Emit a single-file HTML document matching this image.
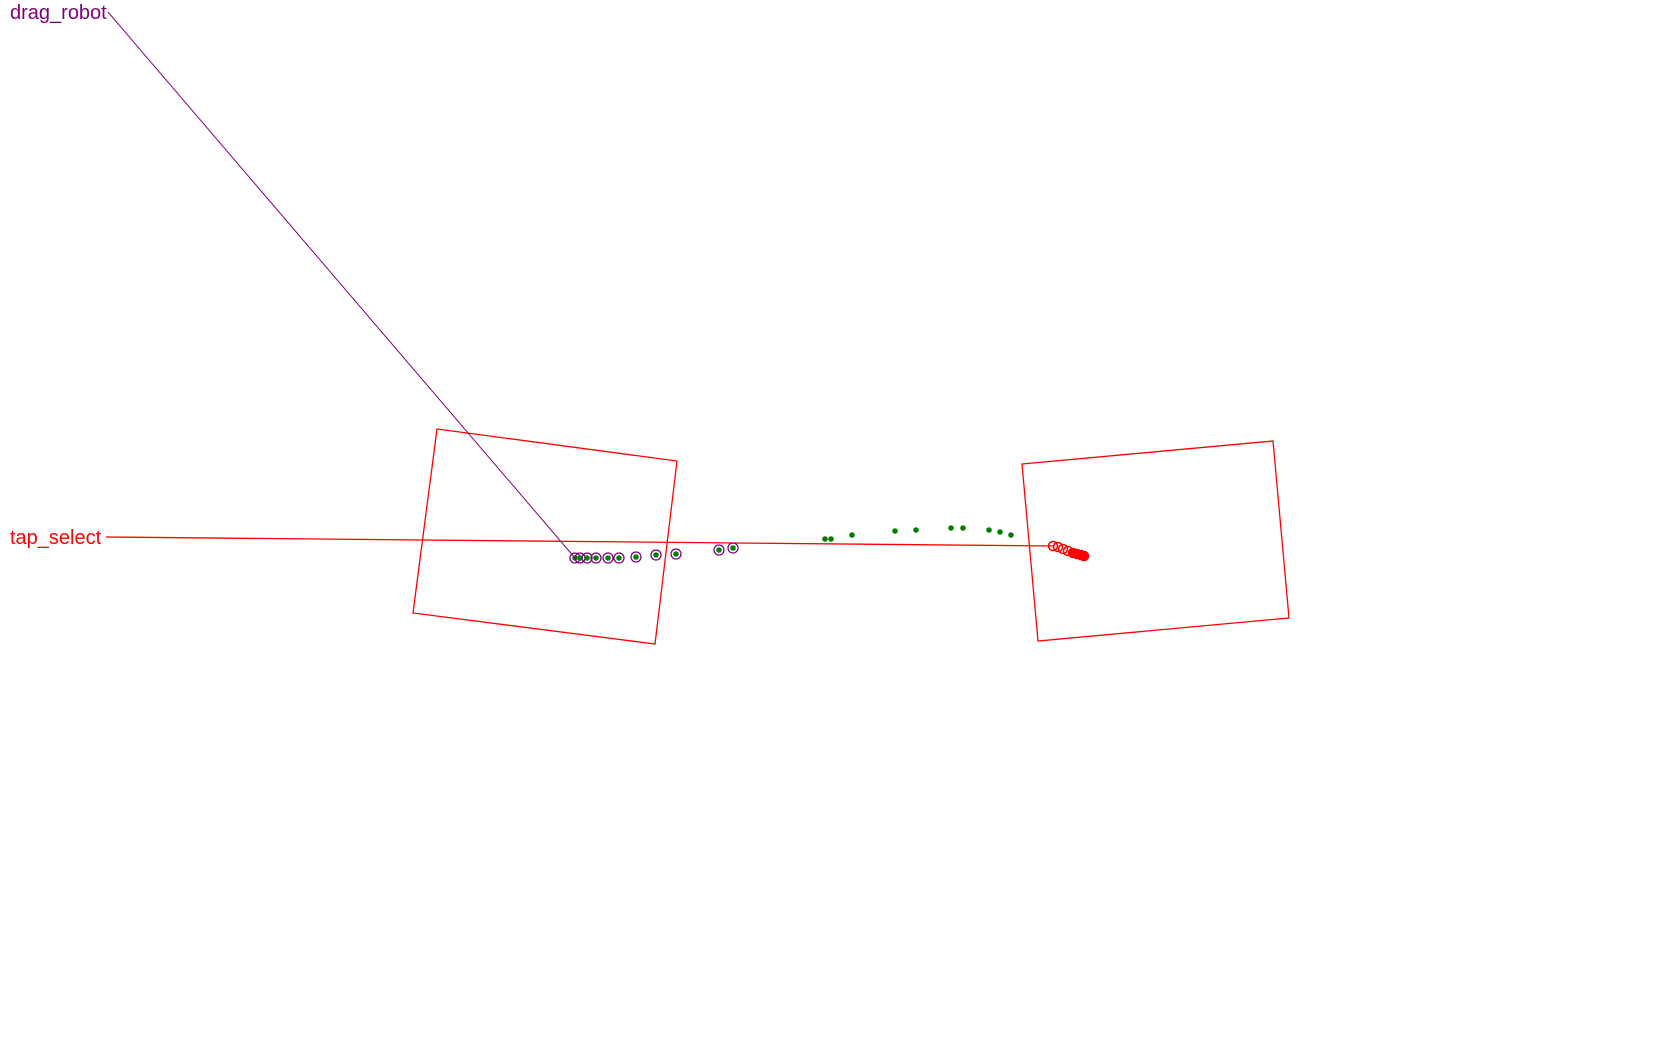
<!DOCTYPE html>
<html><head><meta charset="utf-8"><style>
html,body{margin:0;padding:0;background:#fff;width:1680px;height:1050px;overflow:hidden}
svg{display:block}
text{font-family:"Liberation Sans",sans-serif;font-size:20px}
</style></head><body>
<svg width="1680" height="1050">
<g id="marks"></g>
</svg>
<script>
const boxA=[[437,429],[677,461],[655,644],[413,613]];
const boxB=[[1022,464],[1273,441],[1289,618],[1038,641]];
const dragX=[575,580,587,596,608,619,636,656,676,719,733];
const dragY=[558,558,558,558,558,558,557,555,554,550,548];
const greenX=[825,831,852,895,916,951,963,989,1000,1011];
const greenY=[539,539,535,531,530,528,528,530,532,535];
const tapX=[1053,1058,1063,1068,1073,1077,1081,1084];
const tapY=[546,547,549,551,553,554,555,556];
const ns='http://www.w3.org/2000/svg';
const g=document.getElementById('marks');
function mk(t,a){const e=document.createElementNS(ns,t);for(const k in a)e.setAttribute(k,a[k]);g.appendChild(e);return e;}
let e;
e=mk('polygon',{points:boxA.map(p=>p.join(',')).join(' '),fill:'none',stroke:'red','stroke-width':1.3});


e=mk('polygon',{points:boxB.map(p=>p.join(',')).join(' '),fill:'none',stroke:'red','stroke-width':1.3});


e=mk('line',{x1:106,y1:537,x2:tapX[0],y2:tapY[0],stroke:'red','stroke-width':1.3});


e=mk('line',{x1:108,y1:12,x2:dragX[0],y2:dragY[0],stroke:'purple','stroke-width':1});


for(let i=0;i<greenX.length;i++){e=mk('circle',{cx:greenX[i],cy:greenY[i],r:2.8,fill:'green'});

}
for(let i=0;i<dragX.length;i++){e=mk('circle',{cx:dragX[i],cy:dragY[i],r:5,fill:'none',stroke:'purple','stroke-width':1.3});


e=mk('circle',{cx:dragX[i],cy:dragY[i],r:2.8,fill:'green'});

}
for(let i=0;i<tapX.length;i++){e=mk('circle',{cx:tapX[i],cy:tapY[i],r:4.5,fill:i<4?'none':'red',stroke:'red','stroke-width':1.5});

}
e=mk('text',{x:10,y:19,fill:'purple'});e.textContent='drag_robot';


e=mk('text',{x:10,y:544,fill:'red'});e.textContent='tap_select';


</script>
</body></html>
